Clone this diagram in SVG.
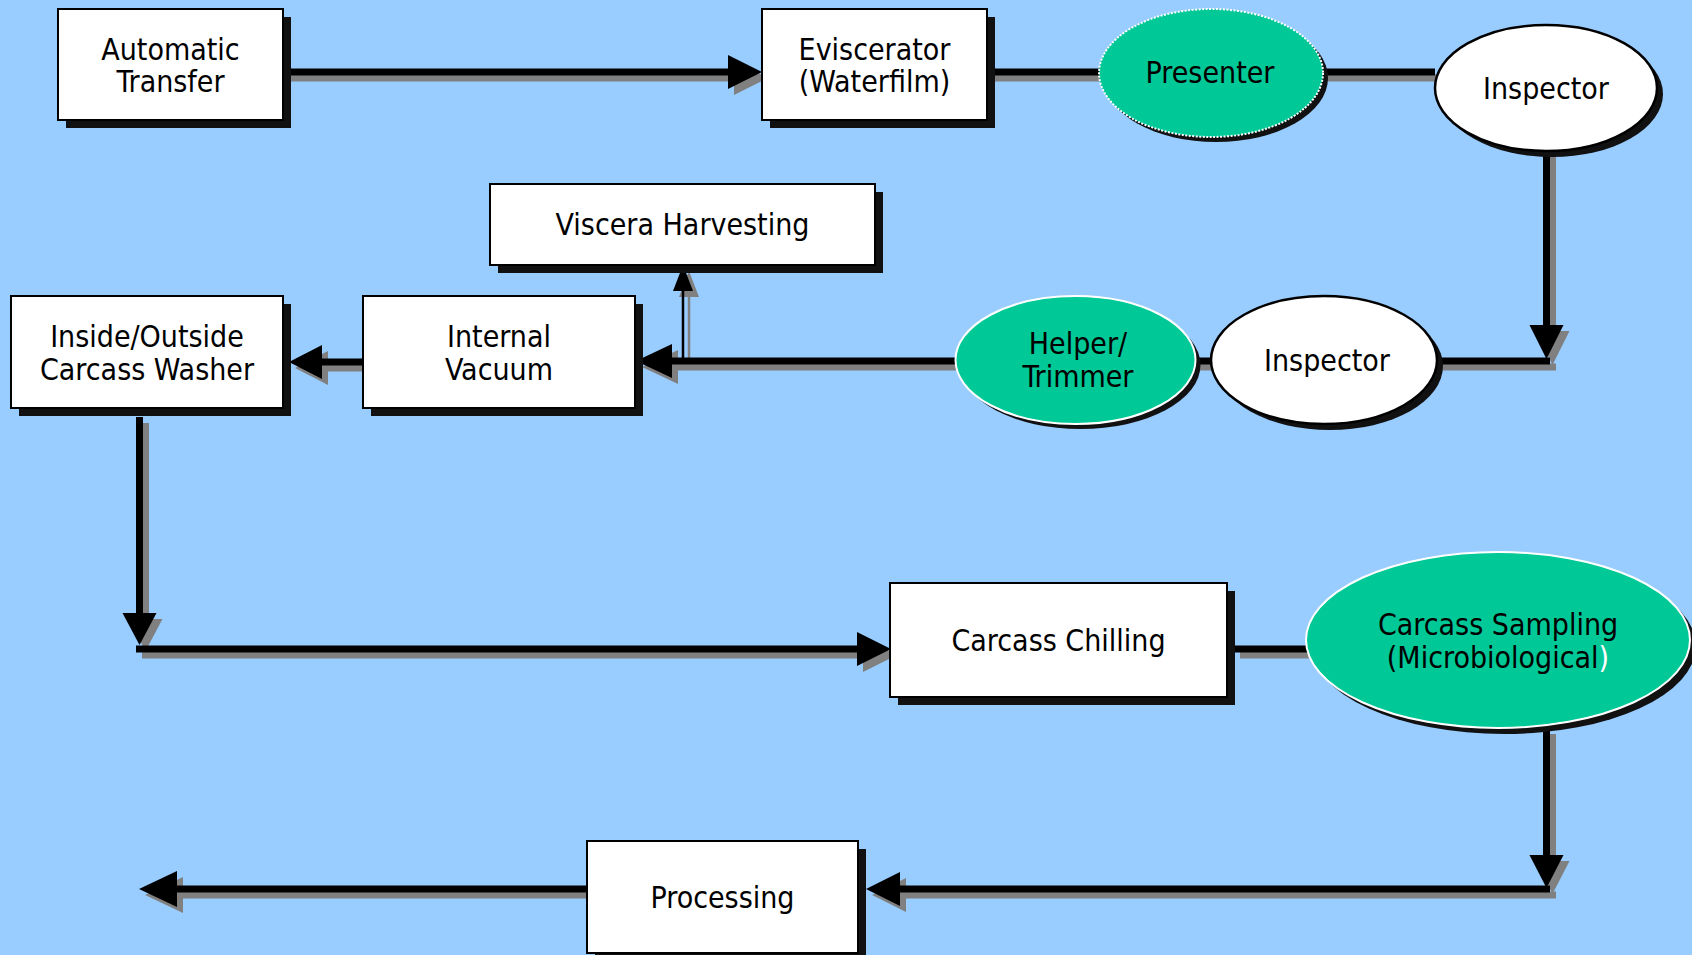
<svg xmlns="http://www.w3.org/2000/svg" xmlns:xlink="http://www.w3.org/1999/xlink" width="1692" height="955" viewBox="0 0 1692 955">
  <style>
    .lbl { font-family: "DejaVu Sans Condensed", "DejaVu Sans", sans-serif; font-stretch: condensed; font-size: 30px; fill: #000; text-anchor: middle; }
    .box { fill: #fff; stroke: #000; stroke-width: 2; }
    .boxsh { fill: #111; }
    .oval { fill: #fff; stroke: #000; stroke-width: 2.5; }
    .green { fill: #00C896; stroke: #fff; stroke-width: 2; }
    .dotted { stroke-dasharray: 2 1.5; }
    .ln { fill: none; stroke-width: 7; }
    .thin { fill: none; stroke-width: 2.5; }
  </style>
  <defs>
    <g id="lines">
      <path class="ln" d="M283,72 H732"/>
      <path class="ln" d="M987,72 H1435"/>
      <path class="ln" d="M1546.5,150 V335"/>
      <path class="ln" d="M1550,361 H668"/>
      <path class="ln" d="M362,362 H318"/>
      <path class="ln" d="M139.5,417 V618"/>
      <path class="ln" d="M136,649 H860"/>
      <path class="ln" d="M1234,649 H1310"/>
      <path class="ln" d="M1546.5,728 V860"/>
      <path class="ln" d="M1550,889 H898"/>
      <path class="ln" d="M587,889 H175"/>
      <path class="thin" d="M683,358 V288"/>
    </g>
    <g id="heads">
      <polygon points="762,72 728,55 728,89"/>
      <polygon points="1546.5,359 1529.5,325 1563.5,325"/>
      <polygon points="636,361 672,344 672,378"/>
      <polygon points="289,362 322,345 322,379"/>
      <polygon points="139.5,645 122.5,613 156.5,613"/>
      <polygon points="891,649 857,632 857,666"/>
      <polygon points="1546.5,888 1529.5,855 1563.5,855"/>
      <polygon points="866,889 900,872 900,906"/>
      <polygon points="139,889 177,871 177,907"/>
      <polygon points="683,265 673,291 693,291"/>
    </g>
  </defs>
  <rect x="0" y="0" width="1692" height="955" fill="#99CCFF"/>

  <g id="connectors">
    <use xlink:href="#lines" transform="translate(6,6)" stroke="#808080"/>
    <use xlink:href="#heads" transform="translate(6,6)" fill="#808080"/>
    <use xlink:href="#lines" stroke="#000"/>
    <use xlink:href="#heads" fill="#000"/>
  </g>

  <g id="automatic-transfer">
    <rect class="boxsh" x="66" y="17" width="225" height="111"/>
    <rect class="box" x="58" y="9" width="225" height="111"/>
    <text class="lbl" x="170.5" y="60">Automatic</text>
    <text class="lbl" x="170.5" y="92">Transfer</text>
  </g>

  <g id="eviscerator">
    <rect class="boxsh" x="770" y="17" width="225" height="111"/>
    <rect class="box" x="762" y="9" width="225" height="111"/>
    <text class="lbl" x="874.5" y="60">Eviscerator</text>
    <text class="lbl" x="874.5" y="92">(Waterfilm)</text>
  </g>

  <g id="presenter">
    <ellipse cx="1216" cy="78" rx="112" ry="64" fill="#111"/>
    <ellipse class="green dotted" cx="1211" cy="73" rx="112" ry="64"/>
    <text class="lbl" x="1210" y="83">Presenter</text>
  </g>

  <g id="inspector-1">
    <ellipse cx="1552" cy="94" rx="111" ry="63" fill="#111"/>
    <ellipse class="oval" cx="1546" cy="88" rx="111" ry="63"/>
    <text class="lbl" x="1546" y="99">Inspector</text>
  </g>

  <g id="viscera-harvesting">
    <rect class="boxsh" x="498" y="192" width="385" height="81"/>
    <rect class="box" x="490" y="184" width="385" height="81"/>
    <text class="lbl" x="682.5" y="235">Viscera Harvesting</text>
  </g>

  <g id="inside-outside-washer">
    <rect class="boxsh" x="19" y="304" width="272" height="112"/>
    <rect class="box" x="11" y="296" width="272" height="112"/>
    <text class="lbl" x="147" y="347">Inside/Outside</text>
    <text class="lbl" x="147" y="380">Carcass Washer</text>
  </g>

  <g id="internal-vacuum">
    <rect class="boxsh" x="371" y="304" width="272" height="112"/>
    <rect class="box" x="363" y="296" width="272" height="112"/>
    <text class="lbl" x="499" y="347">Internal</text>
    <text class="lbl" x="499" y="380">Vacuum</text>
  </g>

  <g id="helper-trimmer">
    <ellipse cx="1080.5" cy="365" rx="120" ry="64" fill="#111"/>
    <ellipse class="green" cx="1075.5" cy="360" rx="120" ry="64"/>
    <text class="lbl" x="1078" y="354">Helper/</text>
    <text class="lbl" x="1078" y="387">Trimmer</text>
  </g>

  <g id="inspector-2">
    <ellipse cx="1330" cy="366" rx="113" ry="64" fill="#111"/>
    <ellipse class="oval" cx="1324" cy="360" rx="113" ry="64"/>
    <text class="lbl" x="1327" y="371">Inspector</text>
  </g>

  <g id="carcass-chilling">
    <rect class="boxsh" x="898" y="591" width="337" height="114"/>
    <rect class="box" x="890" y="583" width="337" height="114"/>
    <text class="lbl" x="1058.5" y="651">Carcass Chilling</text>
  </g>

  <g id="carcass-sampling">
    <ellipse cx="1504" cy="646" rx="192" ry="88" fill="#111"/>
    <ellipse class="green" cx="1498" cy="640" rx="192" ry="88"/>
    <text class="lbl" x="1498" y="635">Carcass Sampling</text>
    <text class="lbl" x="1498" y="668">(Microbiological<tspan fill="#fff">)</tspan></text>
  </g>

  <g id="processing">
    <rect class="boxsh" x="595" y="849" width="271" height="112"/>
    <rect class="box" x="587" y="841" width="271" height="112"/>
    <text class="lbl" x="722.5" y="908">Processing</text>
  </g>
</svg>
